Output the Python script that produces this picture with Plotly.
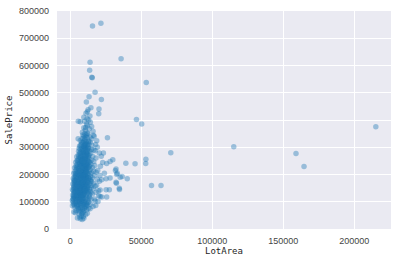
import plotly.graph_objects as go

# Sparse outliers (LotArea, SalePrice)
outliers = [
    [215245, 375000], [164660, 228950], [159000, 277000], [115149, 302000],
    [70761, 280000], [63887, 160000], [57200, 160000], [53504, 538000],
    [53227, 256000], [53107, 240000], [50271, 385000], [46589, 402000],
    [45600, 239000], [39104, 241500], [40094, 184750], [35760, 625000],
    [35133, 190000], [36500, 193000], [34650, 145000], [32463, 168000],
    [32668, 200624], [31770, 215000], [21535, 755000], [15623, 745000],
    [13891, 611657], [13600, 582933], [15138, 556581], [15431, 555000],
    [17423, 501837], [21872, 475000], [13200, 485000], [11300, 466500],
    [20200, 440000], [20000, 423000], [26142, 335000],
]

# Right fringe of the main cluster
fringe = [
    [18600, 324000], [20400, 279000], [23300, 279000], [21800, 267000],
    [18100, 261000], [22800, 244000], [25600, 240000], [28000, 248000],
    [29900, 254000], [32200, 220000], [33100, 205000], [28000, 187000],
    [25200, 184000], [22100, 181000], [32200, 172000], [34500, 150000],
    [27500, 144000], [25200, 144000], [25600, 117000], [22100, 117000],
    [17500, 103000], [17900, 86000], [21000, 119000], [19800, 140000],
    [19300, 215000], [21200, 230000], [17600, 287000], [19000, 300000],
    [16800, 340000], [17800, 310000], [24000, 205000], [20800, 196000],
]

# Main cluster
cluster = [
    [8400, 35000], [7000, 37900], [9500, 39300], [5000, 40000], [10800, 52000],
    [6100, 55000], [8200, 55500], [3600, 60000], [12000, 58000], [9000, 62000],
    [2500, 62000], [4000, 68000], [5500, 75000], [6800, 79000], [7500, 64000],
    [8600, 72000], [9600, 67000], [10400, 78000], [11500, 70000], [12800, 76000],
    [3200, 80000], [6000, 66000], [13900, 74000],
    [1500, 85000], [2200, 92000], [3000, 88000], [4200, 96000], [5000, 82000],
    [5800, 90000], [6600, 98000], [7200, 86000], [7900, 94000], [8500, 81000],
    [9200, 89000], [9900, 97000], [10600, 84000], [11300, 93000], [12100, 87000],
    [13000, 99000], [14200, 91000], [16000, 83000], [1900, 99000], [4800, 87000],
    [1400, 105000], [1800, 112000], [2600, 118000], [3500, 102000], [4400, 109000],
    [5200, 116000], [6000, 104000], [6700, 111000], [7400, 119000], [8100, 101000],
    [8800, 107000], [9500, 115000], [10200, 103000], [10900, 112000], [11600, 118000],
    [12400, 106000], [13300, 114000], [14600, 109000], [17000, 110000], [19500, 101000],
    [3000, 115000], [7000, 108000], [9000, 113000], [11000, 100000],
    [1600, 125000], [2400, 132000], [3100, 138000], [3900, 122000], [4700, 129000],
    [5400, 136000], [6100, 121000], [6900, 127000], [7600, 134000], [8300, 140000],
    [9000, 123000], [9700, 130000], [10500, 137000], [11200, 124000], [11900, 131000],
    [12700, 138000], [13500, 126000], [14500, 133000], [15500, 128000], [18000, 135000],
    [20000, 122000], [2000, 140000], [5800, 131000], [8000, 126000], [10000, 134000],
    [1500, 145000], [2300, 152000], [3200, 158000], [4000, 142000], [4800, 149000],
    [5600, 156000], [6300, 141000], [7000, 147000], [7700, 154000], [8400, 160000],
    [9100, 143000], [9800, 150000], [10600, 157000], [11300, 144000], [12000, 151000],
    [12800, 158000], [13600, 146000], [14700, 153000], [16200, 148000], [17500, 157000],
    [2800, 147000], [6600, 152000], [9400, 155000], [11800, 141000], [21000, 143000],
    [1700, 165000], [2600, 172000], [3400, 178000], [4200, 162000], [5000, 169000],
    [5700, 176000], [6400, 163000], [7100, 170000], [7800, 177000], [8500, 161000],
    [9200, 167000], [9900, 174000], [10700, 180000], [11400, 164000], [12100, 171000],
    [12900, 178000], [13800, 166000], [15000, 173000], [16500, 168000], [18500, 161000],
    [3900, 171000], [8100, 166000], [10300, 169000], [14300, 176000], [20500, 175000],
    [2000, 185000], [2900, 192000], [3700, 198000], [4500, 182000], [5300, 189000],
    [6000, 196000], [6800, 183000], [7500, 190000], [8200, 197000], [8900, 181000],
    [9600, 188000], [10300, 195000], [11000, 184000], [11700, 191000], [12500, 199000],
    [13300, 186000], [14200, 193000], [15500, 188000], [17000, 196000], [19000, 183000],
    [4100, 194000], [7200, 186000], [9400, 199000], [11400, 193000],
    [2400, 205000], [3300, 212000], [4200, 218000], [5000, 202000], [5800, 209000],
    [6500, 216000], [7200, 203000], [7900, 210000], [8600, 217000], [9300, 201000],
    [10000, 207000], [10800, 214000], [11500, 220000], [12200, 204000], [13000, 211000],
    [13900, 218000], [15000, 206000], [16400, 213000], [18200, 208000], [6100, 220000],
    [9000, 213000], [11200, 209000],
    [3000, 225000], [4000, 232000], [4900, 238000], [5700, 222000], [6500, 229000],
    [7300, 236000], [8000, 223000], [8800, 230000], [9500, 237000], [10200, 221000],
    [11000, 228000], [11800, 235000], [12600, 224000], [13400, 231000], [14400, 238000],
    [15600, 226000], [17200, 233000], [7700, 240000], [10600, 233000], [12200, 239000],
    [3800, 245000], [4800, 252000], [5800, 258000], [6700, 242000], [7500, 249000],
    [8300, 256000], [9000, 243000], [9800, 250000], [10600, 257000], [11400, 244000],
    [12200, 251000], [13000, 258000], [13900, 246000], [15000, 253000], [16500, 248000],
    [8700, 260000], [11000, 255000],
    [4500, 265000], [5600, 272000], [6700, 278000], [7600, 262000], [8400, 269000],
    [9200, 276000], [10000, 263000], [10800, 270000], [11600, 277000], [12400, 264000],
    [13300, 271000], [14300, 278000], [15800, 266000], [9600, 280000], [12000, 274000],
    [5800, 285000], [7000, 292000], [8000, 298000], [8900, 282000], [9700, 289000],
    [10500, 296000], [11300, 283000], [12100, 290000], [12900, 297000], [13800, 286000],
    [15000, 293000], [10100, 300000], [16600, 290000],
    [6500, 305000], [7800, 312000], [8900, 318000], [9800, 302000], [10600, 309000],
    [11400, 316000], [12200, 304000], [13000, 311000], [14000, 318000], [15200, 307000],
    [10900, 320000],
    [7000, 325000], [8400, 332000], [9500, 340000], [10400, 328000], [11300, 345000],
    [12100, 335000], [13000, 322000], [13900, 338000], [15000, 330000], [16200, 344000],
    [5500, 331000],
    [8500, 355000], [9500, 372000], [10600, 362000], [11500, 385000], [12400, 350000],
    [13300, 368000], [14100, 392000], [15000, 376000], [16000, 359000], [5600, 395000],
    [7000, 394000], [10000, 395000],
    [9500, 410000], [11000, 425000], [12500, 438000], [13800, 415000], [14500, 445000],
    [11800, 405000], [12000, 430000],
]

# Dense core of the cluster (heavily overlapping points)
core = [
    [5500, 115000], [6300, 123000], [7100, 131000], [7800, 139000], [8600, 147000],
    [9400, 155000], [10200, 163000], [11000, 171000], [6000, 179000], [6800, 187000],
    [7600, 195000], [8400, 203000], [9200, 211000], [10000, 219000], [10800, 227000],
    [5200, 142000], [6200, 158000], [7200, 168000], [8200, 178000], [9200, 188000],
    [10200, 198000], [11200, 208000], [7400, 215000], [8600, 225000], [9600, 235000],
    [6900, 145000], [7900, 160000], [8900, 172000], [9900, 182000], [10900, 192000],
    [11900, 150000], [5900, 198000], [4500, 185000], [3600, 150000], [4400, 120000],
    [8000, 118000], [9600, 128000], [10800, 140000], [12000, 160000], [8800, 135000],
    [2100, 108000], [2700, 126000], [3300, 134000], [2500, 160000], [3000, 176000],
    [3600, 188000], [4300, 206000], [5100, 228000], [5900, 246000], [6800, 262000],
    [7600, 276000], [8500, 290000], [9400, 304000], [10300, 314000], [11200, 300000],
    [12300, 284000], [12700, 268000], [13100, 246000], [13500, 228000], [13900, 204000],
    [14300, 182000], [14600, 160000], [14000, 138000], [13200, 118000], [12300, 96000],
    [11300, 84000], [10100, 90000], [9000, 96000], [7900, 102000], [6800, 92000],
    [5800, 100000], [4800, 104000], [3900, 112000], [4900, 126000], [5800, 138000],
    [6600, 150000], [7400, 162000], [8200, 170000], [9000, 180000], [9800, 190000],
    [10600, 202000], [11400, 214000], [12100, 226000], [12700, 188000], [12300, 172000],
    [11700, 180000], [11100, 158000], [10400, 146000], [9700, 140000], [9000, 124000],
    [8300, 112000], [7600, 124000], [6700, 133000], [5600, 166000], [4800, 172000],
    [4000, 156000], [3200, 166000], [2600, 180000], [3500, 204000], [4300, 226000],
    [5000, 250000], [6100, 266000], [7200, 254000], [8100, 242000], [9000, 258000],
    [9900, 270000], [10800, 282000], [11600, 262000], [12500, 248000], [7000, 200000],
    [7800, 232000], [8700, 196000], [9500, 226000], [10400, 240000], [11300, 236000],
    [6400, 238000], [5400, 212000], [6300, 206000], [5000, 160000], [4200, 138000],
    [6000, 72000], [7200, 76000], [8500, 58000], [9800, 76000], [7800, 48000],
    [6600, 44000], [9200, 46000], [4500, 88000], [3400, 96000], [2300, 120000],
    [7400, 268000], [8200, 284000], [9100, 296000], [10000, 308000], [10900, 290000],
    [11800, 308000], [12600, 320000], [9300, 322000], [8000, 318000], [7200, 306000],
    [9900, 334000], [11000, 338000], [12000, 352000], [10300, 350000], [8800, 345000],
    [12600, 296000], [11500, 270000], [10400, 258000], [9300, 246000], [8200, 250000],
    [6900, 282000], [6200, 296000], [11900, 380000], [12900, 400000], [10800, 372000],
]

points = outliers + fringe + cluster + core
lot_area = [p[0] for p in points]
sale_price = [p[1] for p in points]

x_ticks = [0, 50000, 100000, 150000, 200000]
y_ticks = [0, 100000, 200000, 300000, 400000, 500000, 600000, 700000, 800000]

fig = go.Figure(go.Scatter(
    x=lot_area, y=sale_price, mode="markers",
    marker=dict(size=5.5, color="#1f77b4", opacity=0.4, line=dict(width=0)),
))

tick_font = dict(family="Liberation Sans, Arial, sans-serif", size=9, color="#444444")
title_font = dict(family="DejaVu Sans Mono, monospace", size=9, color="#262626")

fig.update_layout(
    width=398, height=262,
    margin=dict(l=57, r=7, t=11, b=33),
    paper_bgcolor="white", plot_bgcolor="#EAEAF2",
    showlegend=False,
    xaxis=dict(range=[-9400, 225940], tickvals=x_ticks, ticktext=[str(v) for v in x_ticks],
               showgrid=True, gridcolor="white", gridwidth=1, zeroline=False,
               showline=False, ticks="", tickfont=tick_font, ticklabelstandoff=5,
               title=dict(text="LotArea", font=title_font, standoff=0)),
    yaxis=dict(range=[0, 800000], tickvals=y_ticks, ticktext=[str(v) for v in y_ticks],
               showgrid=True, gridcolor="white", gridwidth=1, zeroline=False,
               showline=False, ticks="", tickfont=tick_font, ticklabelstandoff=7,
               title=dict(text="SalePrice", font=title_font, standoff=4)),
)

fig.write_html("out.html")
